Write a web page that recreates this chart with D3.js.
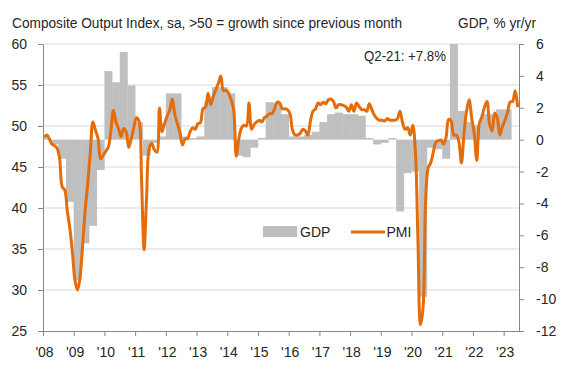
<!DOCTYPE html>
<html>
<head>
<meta charset="utf-8">
<script src="https://cdn.jsdelivr.net/npm/d3@7"></script>
<style>
  body { margin: 0; background: #fff; }
  text { font-family: "Liberation Sans", Arial, sans-serif; fill: #262626; }
</style>
</head>
<body>
<svg id="chart" width="568" height="373"></svg>
<script>
// x axis years
const years = d3.range(2008, 2024)
const yearLabels = years.map(y => "'" + String(y).slice(2))

// axis ticks
const leftTicks = [25, 30, 35, 40, 45, 50, 55, 60]
const rightTicks = [-12, -10, -8, -6, -4, -2, 0, 2, 4, 6]

// composite PMI, monthly from Jan 2008
const pmi = [
  48.6, 48.9, 48.4, 47.8, 47.6, 47.3, 46.0, 42.6, 42.2, 39.6, 37.5, 34.6, // 2008
  31.2, 30.0, 31.6, 35.6, 39.8, 43.0, 46.8, 50.5, 49.5, 48.5, 46.0, 46.4, // 2009
  46.9, 47.4, 49.3, 51.9, 50.5, 49.7, 48.7, 49.7, 49.3, 47.4, 48.5, 49.8, // 2010
  51.0, 50.6, 43.5, 34.9, 41.5, 47.3, 47.9, 47.1, 46.8, 52.2, 49.3, 50.3, // 2011
  51.2, 51.9, 53.3, 51.4, 50.3, 49.2, 47.7, 48.4, 48.5, 49.3, 49.8, 49.6, // 2012
  50.3, 50.4, 52.1, 52.3, 54.0, 52.6, 53.6, 54.4, 55.2, 56.1, 54.3, 54.4, // 2013
  54.0, 53.2, 52.0, 46.3, 48.4, 49.7, 50.1, 50.0, 52.8, 49.6, 50.2, 50.5, // 2014
  50.7, 50.5, 51.0, 51.2, 51.5, 51.5, 52.1, 52.9, 52.8, 52.1, 52.1, 52.0, // 2015
  51.5, 49.5, 48.9, 48.9, 49.1, 49.6, 49.4, 48.9, 50.6, 51.8, 52.1, 52.8, // 2016
  52.6, 52.9, 52.7, 53.2, 53.3, 53.0, 52.2, 52.6, 52.6, 52.5, 52.3, 51.8, // 2017
  52.6, 51.8, 52.8, 52.4, 52.0, 52.0, 51.8, 52.7, 52.0, 51.3, 50.9, 50.7, // 2018
  50.7, 50.6, 50.9, 50.7, 50.7, 50.7, 50.9, 51.8, 50.4, 49.6, 49.8, 48.9, // 2019
  50.1, 47.0, 36.2, 25.8, 27.8, 40.8, 44.9, 45.5, 46.8, 48.0, 48.2, 48.3, // 2020
  47.8, 48.6, 50.8, 50.6, 48.9, 48.9, 48.1, 45.5, 49.0, 51.8, 53.2, 51.0, // 2021
  49.1, 45.8, 50.3, 51.1, 52.3, 53.0, 50.2, 49.4, 51.6, 51.0, 48.9, 49.9, // 2022
  50.7, 51.6, 52.9, 53.0, 54.3, 52.3                                      // 2023
]

// GDP % yr/yr, quarterly from Q1 2008
const gdp = [
  0.1, -0.3, -1.2, -3.9,   // 2008
  -8.8, -6.5, -5.4, -1.9,  // 2009
  4.3, 3.6, 5.5, 3.4,      // 2010
  1.1, -1.0, -0.2, 0.2,    // 2011
  2.9, 2.9, 0.2, 0.1,      // 2012
  0.2, 2.4, 3.3, 3.3,      // 2013
  2.9, -1.0, -1.1, -0.5,   // 2014
  0.1, 2.35, 2.3, 1.6,     // 2015
  0.2, 0.2, 0.3, 0.5,      // 2016
  1.1, 1.6, 1.7, 1.6,      // 2017
  1.6, 1.5, 0.1, -0.3,     // 2018
  -0.2, 0.1, -4.5, -2.1,   // 2019
  -2.0, -9.85, -0.5, -0.6, // 2020
  -1.2, 7.8, 1.8, 1.1,     // 2021
  0.9, 1.6, 1.6, 1.9,      // 2022
  1.9                      // 2023
]

const svg = d3.select("#chart")
const plotLeft = 43, plotRight = 519, plotTop = 44, plotBottom = 331

const x = d3.scaleLinear().domain([2008, 2023.5]).range([plotLeft, plotRight])
const yL = d3.scaleLinear().domain([25, 60]).range([plotBottom, plotTop])
const yR = d3.scaleLinear().domain([-12, 6]).range([plotBottom, plotTop])

svg.append("defs").append("clipPath").attr("id", "plot")
  .append("rect")
  .attr("x", plotLeft).attr("y", plotTop)
  .attr("width", plotRight - plotLeft).attr("height", plotBottom - plotTop)

// gridlines
svg.append("g")
  .selectAll("line")
  .data(leftTicks.slice(1))
  .join("line")
  .attr("x1", plotLeft).attr("x2", plotRight)
  .attr("y1", d => yL(d)).attr("y2", d => yL(d))
  .attr("stroke", "#d9d9d9")
  .attr("stroke-width", 1)

// GDP bars
svg.append("g")
  .attr("clip-path", "url(#plot)")
  .selectAll("rect")
  .data(gdp)
  .join("rect")
  .attr("x", (d, i) => x(2008 + i / 4))
  .attr("width", (d, i) => x(2008 + (i + 1) / 4) - x(2008 + i / 4) + 0.3)
  .attr("y", d => Math.min(yR(d), yR(0)))
  .attr("height", d => Math.abs(yR(d) - yR(0)))
  .attr("fill", "#bfbfbf")

// PMI line
const line = d3.line()
  .x((d, i) => x(2008 + (i + 0.5) / 12))
  .y(d => yL(d))
  .curve(d3.curveCatmullRom.alpha(0.5))

svg.append("path")
  .datum(pmi)
  .attr("d", line)
  .attr("fill", "none")
  .attr("stroke", "#e46c0a")
  .attr("stroke-width", 3)
  .attr("stroke-linejoin", "round")

// axes
const axisColor = "#868686"
function styleAxis(g) {
  g.select(".domain").attr("stroke", axisColor)
  g.selectAll(".tick line").attr("stroke", axisColor)
  g.selectAll(".tick text").attr("font-size", 14).attr("fill", "#262626")
    .style("font-family", '"Liberation Sans", Arial, sans-serif')
}

svg.append("g")
  .attr("transform", `translate(${plotLeft},0)`)
  .call(d3.axisLeft(yL).tickValues(leftTicks).tickFormat(d => String(d))
    .tickSize(5).tickSizeOuter(0).tickPadding(11))
  .call(styleAxis)

svg.append("g")
  .attr("transform", `translate(${plotRight},0)`)
  .call(d3.axisRight(yR).tickValues(rightTicks).tickFormat(d => String(d))
    .tickSize(5).tickSizeOuter(0).tickPadding(12))
  .call(styleAxis)

svg.append("g")
  .attr("transform", `translate(0,${plotBottom})`)
  .call(d3.axisBottom(x).tickValues(years).tickFormat((d, i) => yearLabels[i])
    .tickSize(5).tickSizeOuter(0).tickPadding(11))
  .call(styleAxis)
  .call(g => g.selectAll(".tick text").attr("dx", 1))

// titles
svg.append("text")
  .attr("x", 12).attr("y", 28)
  .attr("font-size", 14)
  .attr("textLength", 390).attr("lengthAdjust", "spacingAndGlyphs")
  .text("Composite Output Index, sa, >50 = growth since previous month")

svg.append("text")
  .attr("x", 458).attr("y", 28)
  .attr("font-size", 14)
  .attr("textLength", 78).attr("lengthAdjust", "spacingAndGlyphs")
  .text("GDP, % yr/yr")

svg.append("text")
  .attr("x", 364).attr("y", 61)
  .attr("font-size", 14)
  .attr("textLength", 82).attr("lengthAdjust", "spacingAndGlyphs")
  .text("Q2-21: +7.8%")

// legend
const legend = svg.append("g")
legend.append("rect")
  .attr("x", 263).attr("y", 226).attr("width", 34).attr("height", 11)
  .attr("fill", "#bfbfbf")
legend.append("text")
  .attr("x", 300).attr("y", 237).attr("font-size", 14)
  .text("GDP")
legend.append("line")
  .attr("x1", 351).attr("x2", 385).attr("y1", 232).attr("y2", 232)
  .attr("stroke", "#e46c0a").attr("stroke-width", 3)
legend.append("text")
  .attr("x", 386.5).attr("y", 237).attr("font-size", 14)
  .text("PMI")
</script>
</body>
</html>
